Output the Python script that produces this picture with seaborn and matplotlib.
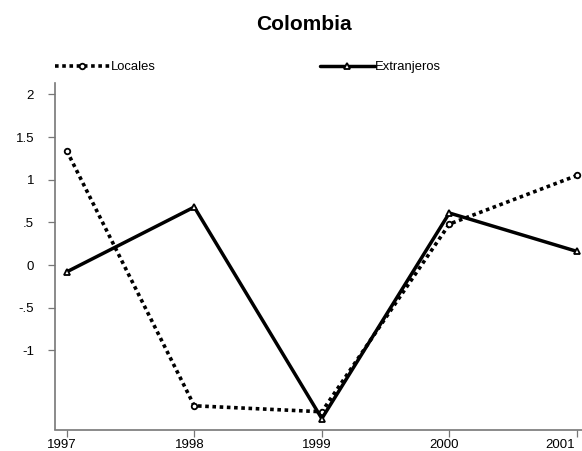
import matplotlib
matplotlib.use('Agg')
import matplotlib.pyplot as plt
import matplotlib.transforms as mtransforms
import seaborn as sns
import pandas as pd

# values
years = [1997, 1998, 1999, 2000, 2001]
locales = [1.34, -1.65, -1.72, 0.48, 1.05]
extranjeros = [-0.08, 0.68, -1.80, 0.61, 0.16]
ytick_vals = [2, 1.5, 1, 0.5, 0, -0.5, -1]
ytick_labels = ['2', '1.5', '1', '.5', '0', '-.5', '-1']

df = pd.DataFrame({'year': years, 'Locales': locales, 'Extranjeros': extranjeros})

sns.set_theme(style='ticks')
plt.rcParams['font.family'] = ['Liberation Sans', 'DejaVu Sans']
plt.rcParams['text.color'] = 'black'

fig = plt.figure(figsize=(5.82, 4.51), dpi=100)
ax = fig.add_axes([55 / 582, 1 - 429.5 / 451, 527 / 582, (429.5 - 83) / 451])

sns.lineplot(data=df, x='year', y='Locales', ax=ax, color='black',
             linewidth=2.6, linestyle=(0, (1, 1)), marker='o', markersize=4,
             markerfacecolor='white', markeredgecolor='black',
             markeredgewidth=1.3, label='Locales')
sns.lineplot(data=df, x='year', y='Extranjeros', ax=ax, color='black',
             linewidth=2.5, marker='^', markersize=4.5,
             markerfacecolor='white', markeredgecolor='black',
             markeredgewidth=1.3, label='Extranjeros')

ax.set_xlim(1996.908, 2001.04)
ax.set_ylim(-1.928, 2.134)
ax.set_xticks(years)
ax.set_xticklabels([str(y) for y in years])
ax.set_yticks(ytick_vals)
ax.set_yticklabels(ytick_labels)
ax.set_xlabel('')
ax.set_ylabel('')

sns.despine(ax=ax)
for side in ['left', 'bottom']:
    ax.spines[side].set_color('#777777')
    ax.spines[side].set_linewidth(1.2)
ax.tick_params(axis='both', length=5, width=0.9, color='#777777',
               labelsize=9.5, labelcolor='black')
ax.tick_params(axis='y', pad=10)
ax.tick_params(axis='x', pad=1.5)

# stata-style label placement: labels sit a bit left of the ticks
shift = mtransforms.ScaledTranslation(-5 / 100, 0, fig.dpi_scale_trans)
xlabels = ax.get_xticklabels()
for lab in xlabels[:-1]:
    lab.set_transform(lab.get_transform() + shift)
xlabels[-1].set_horizontalalignment('right')
xlabels[-1].set_transform(xlabels[-1].get_transform() +
                          mtransforms.ScaledTranslation(-2 / 100, 0, fig.dpi_scale_trans))

ax.legend(loc='center left', bbox_to_anchor=(55 / 582, 1 - 67 / 451),
          bbox_transform=fig.transFigure, ncol=2, frameon=False,
          fontsize=9.4, handlelength=4.2, handletextpad=0.05,
          columnspacing=12.6, borderpad=0, borderaxespad=0, numpoints=1)

fig.text(304 / 582, 1 - 25 / 451, 'Colombia', ha='center', va='center',
         fontsize=15, fontweight='bold', color='black')

fig.savefig('out.png', dpi=100, facecolor='white')
